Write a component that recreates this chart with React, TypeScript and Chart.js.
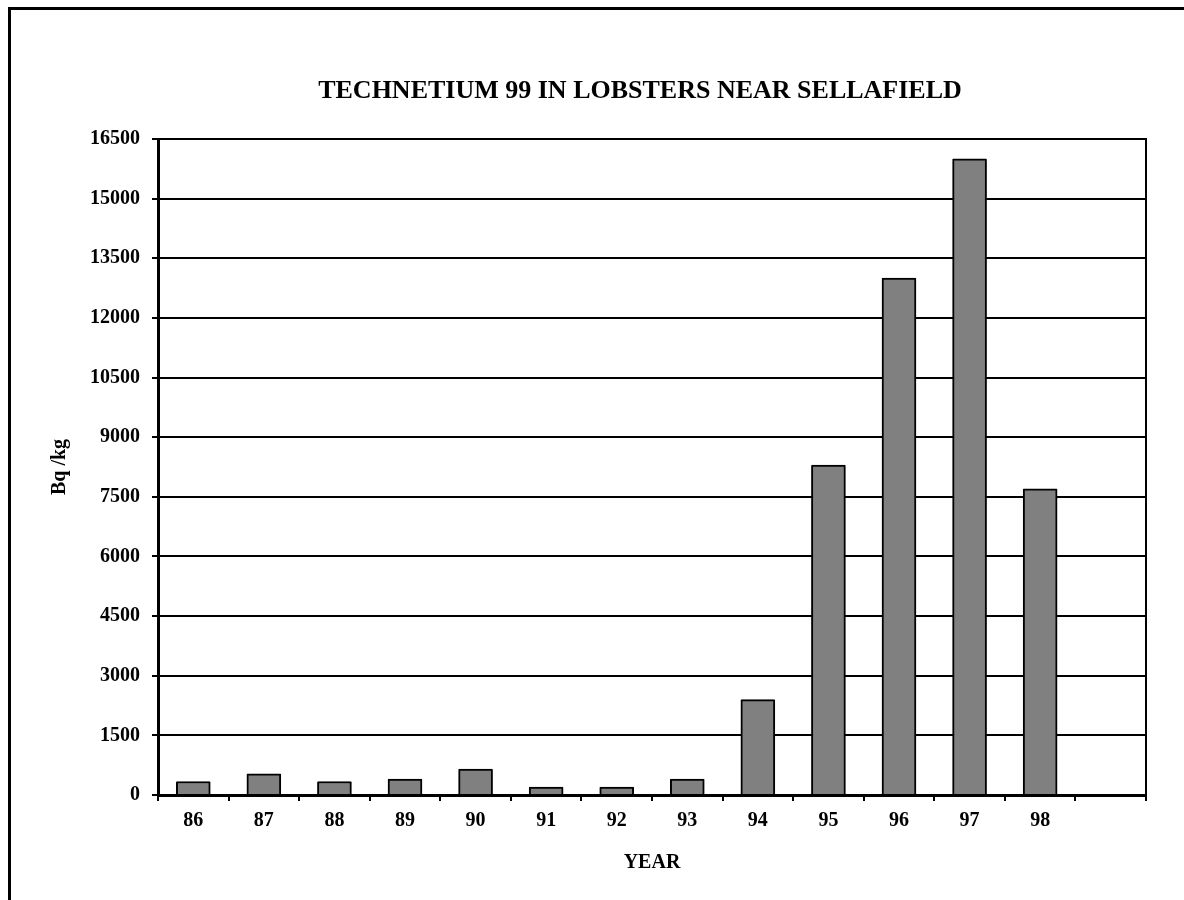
import React, { useEffect, useRef } from "react";
import { Chart, registerables } from "chart.js";

Chart.register(...registerables);

// Technetium-99 activity in lobsters, by year (Bq/kg)
const years = ["86", "87", "88", "89", "90", "91", "92", "93", "94", "95", "96", "97", "98", ""];
const activity = [340, 530, 340, 400, 650, 200, 200, 400, 2400, 8300, 13000, 16000, 7700, null];
const yTickValues = [0, 1500, 3000, 4500, 6000, 7500, 9000, 10500, 12000, 13500, 15000, 16500];

const chartTitle = "TECHNETIUM 99 IN LOBSTERS NEAR SELLAFIELD";
const yAxisTitle = "Bq /kg";
const xAxisTitle = "YEAR";

const SERIF = "'Liberation Serif', 'Times New Roman', Times, serif";

// Draws the heading and the right-hand edge of the plot frame
const framePlugin = {
  id: "frameAndHeading",
  afterDraw(chart: any) {
    const { ctx, chartArea } = chart;
    ctx.save();
    ctx.strokeStyle = "#000";
    ctx.lineWidth = 2;
    ctx.beginPath();
    ctx.moveTo(chartArea.right, chartArea.top - 1);
    ctx.lineTo(chartArea.right, chartArea.bottom);
    ctx.stroke();

    ctx.fillStyle = "#000";
    ctx.font = `bold 26px ${SERIF}`;
    ctx.textAlign = "center";
    ctx.textBaseline = "middle";
    ctx.fillText(chartTitle, 640, 91);
    ctx.restore();
  },
};

export default function App() {
  const canvasRef = useRef<HTMLCanvasElement | null>(null);

  useEffect(() => {
    const canvas = canvasRef.current;
    if (!canvas) return;
    const chart = new Chart(canvas, {
      type: "bar",
      data: {
        labels: years,
        datasets: [
          {
            data: activity as any,
            backgroundColor: "#808080",
            borderColor: "#000",
            borderWidth: 2,
            borderRadius: 1,
            borderSkipped: "bottom",
            barThickness: 34,
          },
        ],
      },
      options: {
        responsive: false,
        animation: false,
        events: [],
        layout: { padding: { top: 139, right: 38, bottom: 0, left: 0 } },
        plugins: {
          legend: { display: false },
          title: { display: false },
          tooltip: { enabled: false },
        },
        scales: {
          x: {
            offset: true,
            grid: {
              display: true,
              offset: true,
              drawOnChartArea: false,
              drawTicks: true,
              tickLength: 6,
              color: "#000",
              lineWidth: 2,
            },
            border: { display: true, color: "#000", width: 3 },
            ticks: {
              color: "#000",
              padding: 8,
              font: { family: SERIF, size: 20, weight: "bold" },
              maxRotation: 0,
              autoSkip: false,
            },
            title: {
              display: true,
              text: xAxisTitle,
              color: "#000",
              font: { family: SERIF, size: 20, weight: "bold" },
              padding: { top: 0, bottom: 25 },
            },
            afterFit(scale: any) {
              scale.height = 105;
            },
          },
          y: {
            min: 0,
            max: 16500,
            grid: {
              color: "#000",
              lineWidth: 2,
              drawTicks: true,
              tickLength: 6,
              tickColor: "#000",
              tickWidth: 2,
            },
            border: { display: true, color: "#000", width: 3 },
            ticks: {
              color: "#000",
              padding: 12,
              font: { family: SERIF, size: 20, weight: "bold" },
              callback: (value: any) => String(value),
            },
            afterBuildTicks(scale: any) {
              scale.ticks = yTickValues.map((v) => ({ value: v }));
            },
            title: {
              display: true,
              text: yAxisTitle,
              color: "#000",
              font: { family: SERIF, size: 20, weight: "bold" },
              padding: { top: 48, bottom: 0 },
            },
            afterFit(scale: any) {
              scale.width = 158;
            },
          },
        },
      },
      plugins: [framePlugin],
    });
    return () => chart.destroy();
  }, []);

  return (
    <div
      style={{
        position: "fixed",
        left: 0,
        top: 0,
        width: 1184,
        height: 900,
        overflow: "hidden",
        background: "#fff",
      }}
    >
      <div
        style={{
          position: "absolute",
          left: 8,
          top: 7,
          width: 1300,
          height: 1000,
          border: "3px solid #000",
          boxSizing: "border-box",
        }}
      />
      <canvas
        ref={canvasRef}
        width={1184}
        height={900}
        style={{ position: "absolute", left: 0, top: 0, width: 1184, height: 900 }}
      />
    </div>
  );
}
